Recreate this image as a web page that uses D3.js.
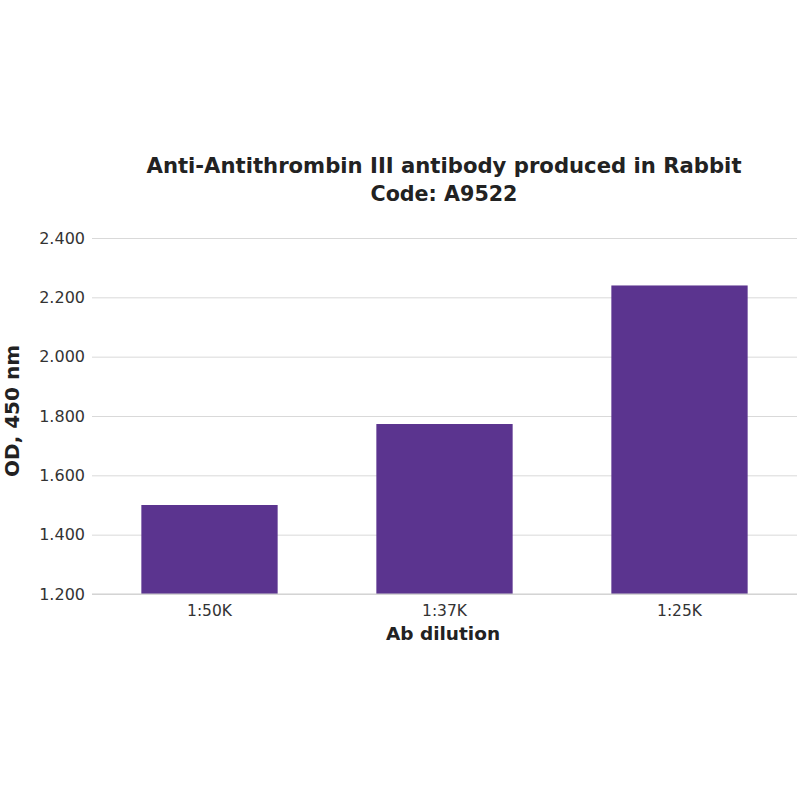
<!DOCTYPE html>
<html>
<head>
<meta charset="utf-8">
<script src="https://cdn.jsdelivr.net/npm/d3@7"></script>
<style>
  body { margin: 0; background: #fff; }
  svg { display: block; }
  .tick text { font-family: "DejaVu Sans", Verdana, sans-serif; fill: #333; }
</style>
</head>
<body>
<svg id="chart"></svg>
<script>
// Chart data
const dilutions = ['1:50K', '1:37K', '1:25K'];
const odValues = [1.500, 1.773, 2.240];
const yTicks = [1.2, 1.4, 1.6, 1.8, 2.0, 2.2, 2.4];

const width = 800, height = 800;
const margin = {top: 238, right: 3, bottom: 206, left: 92};
const innerW = width - margin.left - margin.right;
const innerH = height - margin.top - margin.bottom;

const svg = d3.select('#chart')
    .attr('width', width)
    .attr('height', height);

const chart = svg.append('g')
    .attr('transform', `translate(${margin.left},${margin.top})`);

const xScale = d3.scaleBand()
    .domain(dilutions)
    .range([0, innerW])
    .paddingInner(0.42)
    .paddingOuter(0.21);

const yScale = d3.scaleLinear()
    .domain([1.2, 2.4])
    .range([innerH, 0]);

// Gridlines + y labels
const yAxis = d3.axisLeft(yScale)
    .tickValues(yTicks)
    .tickSize(-innerW)
    .tickPadding(7)
    .tickFormat(d3.format('.3f'));

const yAxisG = chart.append('g').call(yAxis);
yAxisG.select('.domain').remove();
yAxisG.selectAll('.tick line').attr('stroke', '#d9d9d9').attr('stroke-width', 1);
yAxisG.selectAll('.tick text').attr('font-size', 16);

// Bars
chart.selectAll('.bar')
    .data(dilutions)
  .join('rect')
    .attr('class', 'bar')
    .attr('x', d => xScale(d))
    .attr('width', xScale.bandwidth())
    .attr('y', (d, i) => yScale(odValues[i]))
    .attr('height', (d, i) => innerH - yScale(odValues[i]))
    .attr('fill', '#5b348f');

// Baseline
chart.append('line')
    .attr('x1', 0).attr('x2', innerW)
    .attr('y1', innerH).attr('y2', innerH)
    .attr('stroke', '#cfcfcf');

// x axis labels
const xAxisG = chart.append('g')
    .attr('transform', `translate(0,${innerH})`)
    .call(d3.axisBottom(xScale).tickSize(0).tickPadding(11));
xAxisG.select('.domain').remove();
xAxisG.selectAll('.tick text').attr('font-size', 15.5);

// Titles
const title = svg.append('text')
    .attr('x', 444)
    .attr('y', 173)
    .attr('text-anchor', 'middle')
    .style('font-family', '"DejaVu Sans", sans-serif')
    .style('font-weight', 'bold')
    .style('font-size', '22px')
    .attr('fill', '#222');
title.append('tspan').attr('x', 444)
    .attr('textLength', 595).attr('lengthAdjust', 'spacingAndGlyphs')
    .text('Anti-Antithrombin III antibody produced in Rabbit');
title.append('tspan').attr('x', 444).attr('dy', 28)
    .attr('textLength', 147).attr('lengthAdjust', 'spacingAndGlyphs')
    .text('Code: A9522');

svg.append('text')
    .attr('x', 443)
    .attr('y', 640)
    .attr('text-anchor', 'middle')
    .style('font-family', '"DejaVu Sans", sans-serif')
    .style('font-weight', 'bold')
    .style('font-size', '18.5px')
    .attr('fill', '#222')
    .text('Ab dilution');

svg.append('text')
    .attr('transform', `translate(19,411) rotate(-90)`)
    .attr('text-anchor', 'middle')
    .style('font-family', '"DejaVu Sans", sans-serif')
    .style('font-weight', 'bold')
    .style('font-size', '20px')
    .attr('fill', '#222')
    .text('OD, 450 nm');
</script>
</body>
</html>
